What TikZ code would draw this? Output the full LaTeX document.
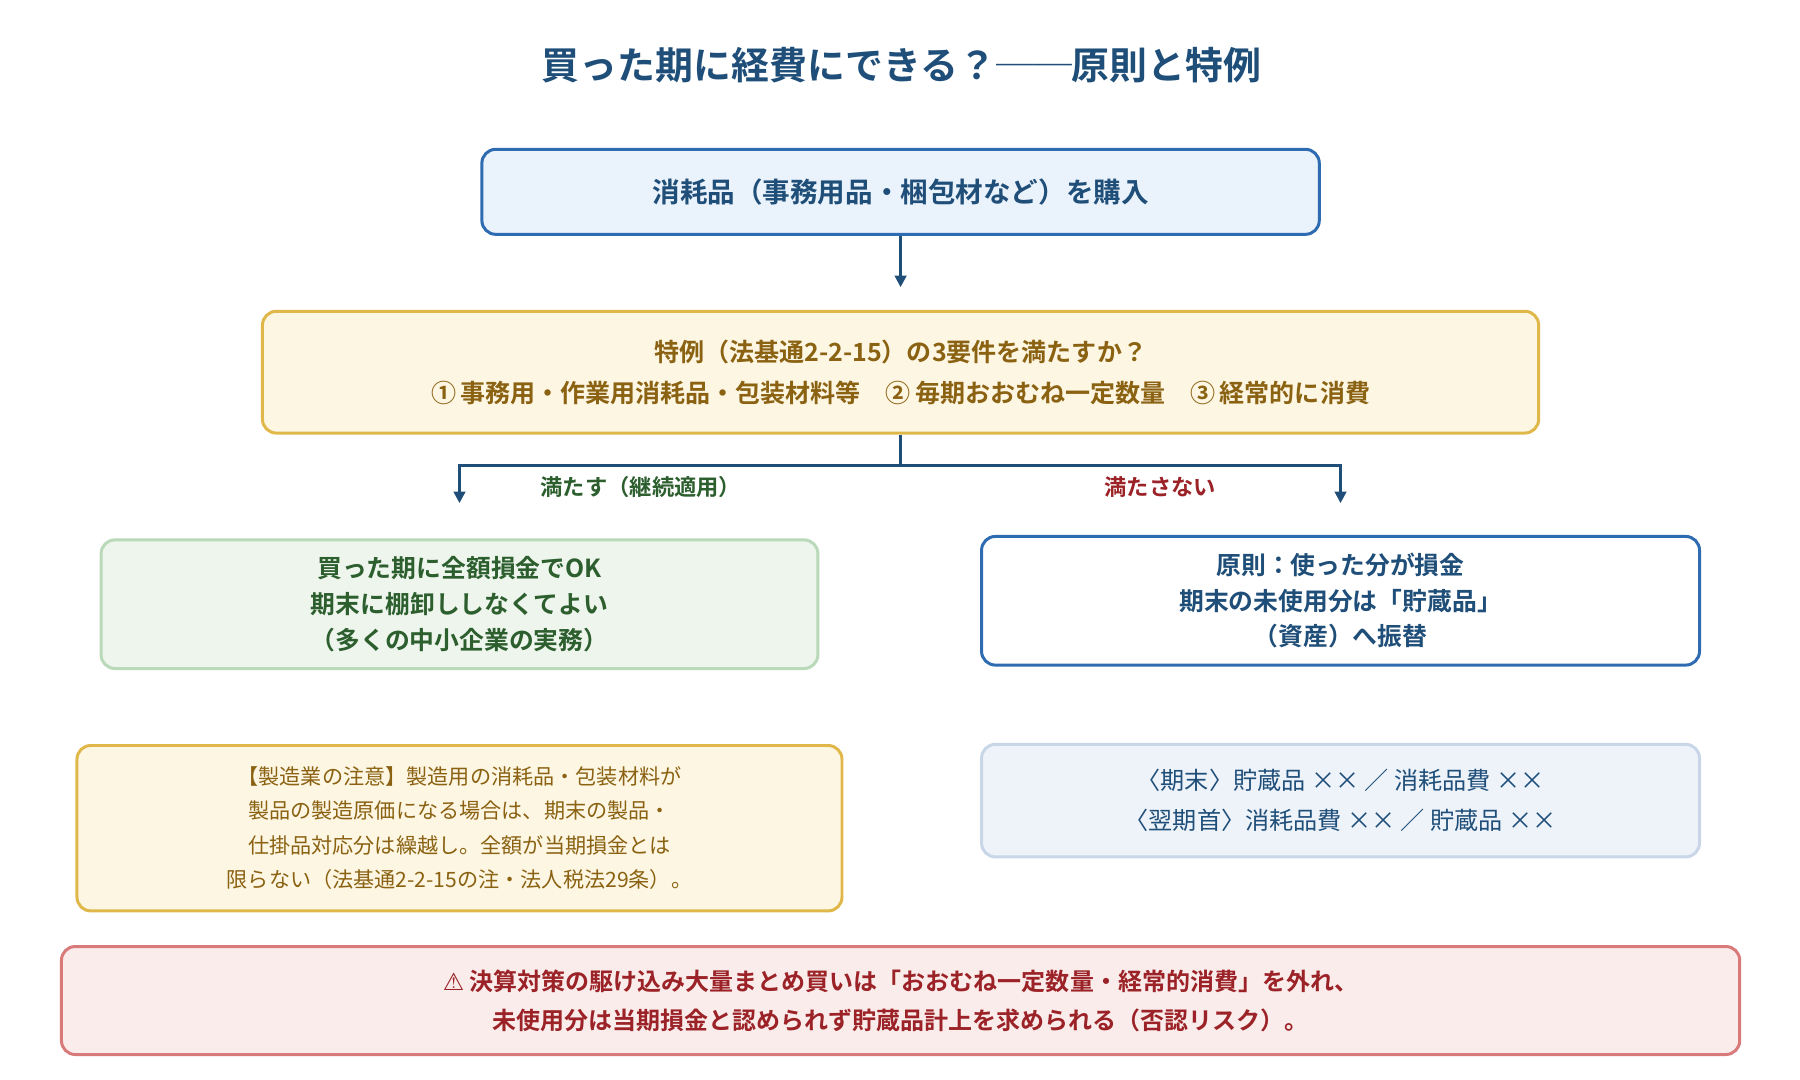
\documentclass[tikz,border=0pt]{standalone}
\usepackage{fontspec}
\setmainfont{Noto Sans CJK JP}[BoldFont={* Bold}]
\newfontfamily\symf{DejaVu Sans}
\usetikzlibrary{arrows.meta}
\definecolor{navy}{HTML}{1F4E79}
\definecolor{blueline}{HTML}{2E6BB0}
\definecolor{bluefill}{HTML}{EAF2FB}
\definecolor{paleblue}{HTML}{EEF3FA}
\definecolor{paleline}{HTML}{C8D6E8}
\definecolor{gold}{HTML}{E0B84A}
\definecolor{cream}{HTML}{FDF6E3}
\definecolor{brown}{HTML}{8A6212}
\definecolor{greenfill}{HTML}{EDF5EC}
\definecolor{greenline}{HTML}{B9D9B9}
\definecolor{darkgreen}{HTML}{2C5E2E}
\definecolor{redfill}{HTML}{FBECEC}
\definecolor{redline}{HTML}{D97A7A}
\definecolor{darkred}{HTML}{9B2226}

\begin{document}
\begin{tikzpicture}[x=0.5pt,y=-0.5pt,
	box/.style={draw, rounded corners=6pt, line width=1.3pt, align=center, inner sep=0pt},
	arr/.style={-{Triangle[length=5pt,width=5pt]}, navy, line width=1.2pt}]
	\useasboundingbox (0,0) rectangle (1567,940);
	\node (title) at (785,57) [font=\bfseries\fontsize{16.5}{19}\selectfont, text=navy] {買った期に経費にできる？──原則と特例};
	\node (buy) at (784,167) [box, draw=blueline, fill=bluefill, minimum width=364.5pt, minimum height=37pt, text=navy, font=\bfseries\fontsize{12}{14}\selectfont] {消耗品（事務用品・梱包材など）を購入};
	\node (ask) at (784,324) [box, draw=gold, fill=cream, minimum width=555.5pt, minimum height=53pt, text=brown, font=\bfseries\fontsize{10.9}{18}\selectfont] {特例（法基通2-2-15）の3要件を満たすか？\\①\,事務用・作業用消耗品・包装材料等\quad ②\,毎期おおむね一定数量\quad ③\,経常的に消費};
	\node (ok) at (400,526) [box, draw=greenline, fill=greenfill, minimum width=312pt, minimum height=56pt, text=darkgreen, font=\bfseries\fontsize{10.8}{15.5}\selectfont] {買った期に全額損金でOK\\期末に棚卸ししなくてよい\\（多くの中小企業の実務）};
	\node (rule) at (1167,523) [box, draw=blueline, fill=white, minimum width=312.5pt, minimum height=56pt, text=navy, font=\bfseries\fontsize{10.8}{15.5}\selectfont] {原則：使った分が損金\\期末の未使用分は「貯蔵品」\\（資産）へ振替};
	\node (note) at (400,721) [box, draw=gold, fill=cream, minimum width=333pt, minimum height=72pt, text=brown, font=\fontsize{9.2}{15}\selectfont] {【製造業の注意】製造用の消耗品・包装材料が\\製品の製造原価になる場合は、期末の製品・\\仕掛品対応分は繰越し。全額が当期損金とは\\限らない（法基通2-2-15の注・法人税法29条）。};
	\node (entry) at (1167,697) [box, draw=paleline, fill=paleblue, minimum width=312.5pt, minimum height=49pt, text=navy, font=\fontsize{10.5}{17.5}\selectfont] {〈期末〉貯蔵品 ×× ／ 消耗品費 ××\\〈翌期首〉消耗品費 ×× ／ 貯蔵品 ××};
	\node (warn) at (784,871) [box, draw=redline, fill=redfill, minimum width=730.5pt, minimum height=47pt, text=darkred, font=\bfseries\fontsize{10.45}{17}\selectfont] {{\symf ⚠} 決算対策の駆け込み大量まとめ買いは「おおむね一定数量・経常的消費」を外れ、\\未使用分は当期損金と認められず貯蔵品計上を求められる（否認リスク）。};
	\coordinate (split) at (784,405);
	\coordinate (yes) at (400,438);
	\coordinate (no) at (1167,438);
	\draw[arr] (buy) -- (784,250);
	\draw[navy, line width=1.2pt] (ask) -- (split);
	\draw[arr] (split) -| (yes);
	\draw[arr] (split) -| (no);
	\node (yeslbl) at (558,424) [text=darkgreen, font=\bfseries\fontsize{9.7}{11}\selectfont] {満たす（継続適用）};
	\node (nolbl) at (1010,424) [text=darkred, font=\bfseries\fontsize{9.7}{11}\selectfont] {満たさない};
\end{tikzpicture}
\end{document}
